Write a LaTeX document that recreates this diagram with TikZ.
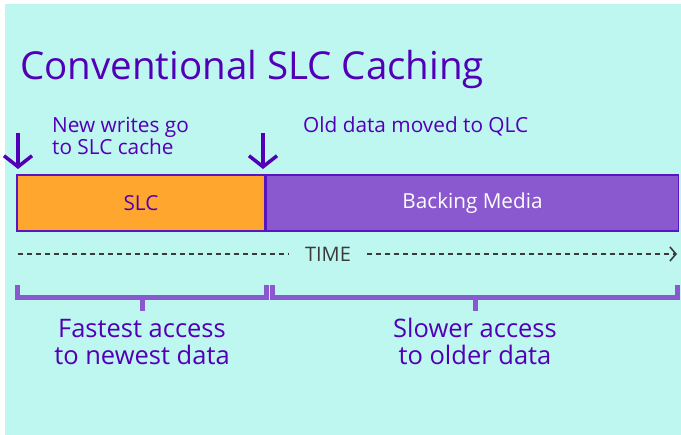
\documentclass[tikz,border=0pt]{standalone}
\usepackage{fontspec}
\setmainfont{Open Sans}
\usepackage{xcolor}
\definecolor{bgcyan}{HTML}{BEF6F0}
\definecolor{inkpurple}{HTML}{5200B8}
\definecolor{slcorange}{HTML}{FFA62F}
\definecolor{mediapurple}{HTML}{8A58CF}
\definecolor{edgepurple}{HTML}{5A14C2}
\definecolor{timegray}{HTML}{3A3A3A}
\usetikzlibrary{positioning}
\usetikzlibrary{arrows.meta}
\usetikzlibrary{calc}
\tikzset{block node/.style={draw=edgepurple,line width=1.5pt,minimum height=56pt,inner sep=0pt,font=\fontsize{20.7}{24}\selectfont},
  note/.style={text=inkpurple,font=\fontsize{20.8}{22}\selectfont,inner sep=0pt,align=left},
  gain/.style={text=inkpurple,font=\fontsize{25.5}{27}\selectfont,inner sep=0pt,align=center},
  drop/.style={draw=inkpurple,line width=3.5pt,-{Straight Barb[length=11pt,width=28pt,line width=3.5pt]}},
  brace/.style={draw=mediapurple,line width=5pt},}

\begin{document}
\begin{tikzpicture}[x=1pt,y=-1pt]
	\useasboundingbox (0,0) rectangle (681,435);
	\fill[bgcyan] (5,4) rectangle (681,435);

	\node[anchor=base west,text=inkpurple,inner sep=0pt,font=\fontsize{38.5}{44}\selectfont] (title) at (20,80) {Conventional SLC Caching};

	\node[block node,fill=slcorange,text=inkpurple,minimum width=248pt] (slc) at (141,203) {SLC};
	\node[block node,fill=mediapurple,text=white,minimum width=412pt,right=0pt of slc] (media) {Backing Media};

	\node[note,anchor=base west] (newtxt) at (52,155) {New writes go\\to SLC cache};
	\node[note,anchor=base west] (oldtxt) at (303,133) {Old data moved to QLC};

	\coordinate (newtop) at (18,133);
	\coordinate (newtip) at (18,169);
	\coordinate (oldtop) at (263,133);
	\coordinate (oldtip) at (263,169);
	\draw[drop] (newtop) -- (newtip);
	\draw[drop] (oldtop) -- (oldtip);

	% time axis
	\node[text=timegray,inner sep=0pt,font=\fontsize{20}{22}\selectfont] (time) at (328,254) {TIME};
	\coordinate (tstart) at (18,254);
	\coordinate (tend) at (677,254);
	\draw[timegray,line width=1.6pt,dash pattern=on 5pt off 4pt] (tstart) -- ([xshift=-16pt]time.west);
	\draw[timegray,line width=1.6pt,dash pattern=on 5pt off 4pt,-{Straight Barb[length=6pt,width=14pt,line width=1.6pt]}] ([xshift=16pt]time.east) -- (tend);

	% brackets
	\draw[brace] (17,285) -- (17,298) -- (266,298) -- (266,285);
	\draw[brace] (142,298) -- (142,311);
	\draw[brace] (272,285) -- (272,298) -- (677,298) -- (677,285);
	\draw[brace] (475,298) -- (475,311);

	\node[gain,anchor=base] (fast) at (142,365) {Fastest access\\to newest data};
	\node[gain,anchor=base] (slow) at (475,365) {Slower access\\to older data};
\end{tikzpicture}
\end{document}
